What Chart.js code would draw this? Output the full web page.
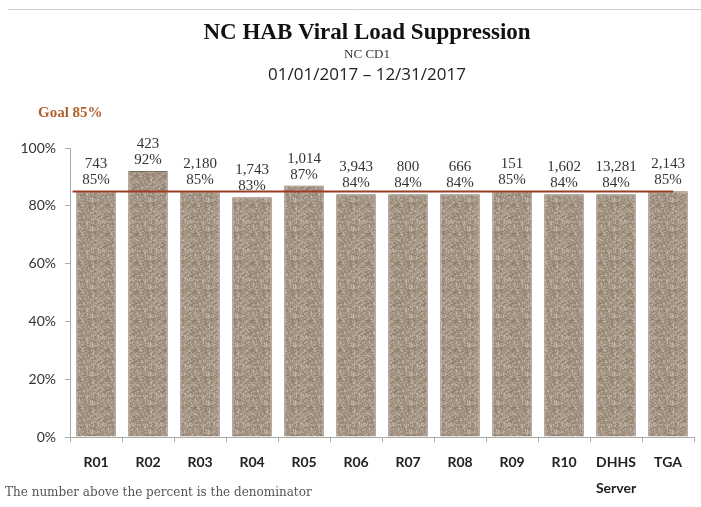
<!DOCTYPE html>
<html>
<head>
<meta charset="utf-8">
<script src="https://cdn.jsdelivr.net/npm/chart.js@4"></script>
<style>
  html, body { margin: 0; padding: 0; background: #fff; }
  #wrap { width: 701px; height: 507px; position: relative; }
</style>
</head>
<body>
<div id="wrap"><canvas id="c" width="701" height="507"></canvas></div>
<script>
// Regions and their viral load suppression results
const categories = ['R01', 'R02', 'R03', 'R04', 'R05', 'R06', 'R07', 'R08', 'R09', 'R10', ['DHHS', 'Server'], 'TGA'];
const suppressedPct = [85, 92, 85, 83, 87, 84, 84, 84, 85, 84, 84, 85];
const denominators = ['743', '423', '2,180', '1,743', '1,014', '3,943', '800', '666', '151', '1,602', '13,281', '2,143'];
const goalPct = 85;
const yTicks = [0, 20, 40, 60, 80, 100];

const titleText = 'NC HAB Viral Load Suppression';
const subtitleText = 'NC CD1';
const periodText = '01/01/2017 \u2013 12/31/2017';
const footnoteText = 'The number above the percent is the denominator';

// Mottled brown fill for the bars (deterministic hash speckle)
function makeTexture() {
  const n = 29;
  const t = document.createElement('canvas');
  t.width = n; t.height = n;
  const g = t.getContext('2d');
  g.fillStyle = '#a69787';
  g.fillRect(0, 0, n, n);
  for (let y = 0; y < n; y++) {
    for (let x = 0; x < n; x++) {
      let h = (x * 374761393 + y * 668265263) >>> 0;
      h = ((h ^ (h >>> 13)) * 1274126177) >>> 0;
      const v = h % 11;
      if (v < 3) { g.fillStyle = 'rgba(110,95,80,0.25)'; g.fillRect(x, y, 2, 1); }
      else if (v < 5) { g.fillStyle = 'rgba(220,210,198,0.35)'; g.fillRect(x, y, 1, 2); }
    }
  }
  return g.createPattern(t, 'repeat');
}

const headerPlugin = {
  id: 'header',
  beforeDraw(chart) {
    const ctx = chart.ctx;
    ctx.save();
    ctx.strokeStyle = '#d0d0d0';
    ctx.lineWidth = 1;
    ctx.beginPath();
    ctx.moveTo(8, 9.5);
    ctx.lineTo(701, 9.5);
    ctx.stroke();
    ctx.textAlign = 'center';
    ctx.textBaseline = 'middle';
    ctx.fillStyle = '#111';
    ctx.font = 'bold 23px "Liberation Serif"';
    ctx.fillText(titleText, 367, 33);
    ctx.font = '13px "Liberation Serif"';
    ctx.fillStyle = '#333';
    ctx.fillText(subtitleText, 367, 55);
    ctx.font = '17px "Open Sans"';
    ctx.fillStyle = '#222';
    ctx.fillText(periodText, 367, 75);
    ctx.textAlign = 'left';
    ctx.font = '12px "DejaVu Serif"';
    ctx.fillStyle = '#555';
    ctx.fillText(footnoteText, 5, 493);
    ctx.restore();
  }
};

const goalPlugin = {
  id: 'goal',
  afterDatasetsDraw(chart) {
    const ctx = chart.ctx;
    const x = chart.scales.x, y = chart.scales.y;
    const yy = Math.round(y.getPixelForValue(goalPct)) + 0.5;
    ctx.save();
    ctx.strokeStyle = '#9a3b22';
    ctx.lineWidth = 2;
    ctx.beginPath();
    ctx.moveTo(x.getPixelForValue(-0.45), yy);
    ctx.lineTo(x.getPixelForValue(11.1), yy);
    ctx.stroke();
    ctx.fillStyle = '#b0622c';
    ctx.font = 'bold 15px "Liberation Serif"';
    ctx.textAlign = 'left';
    ctx.textBaseline = 'middle';
    ctx.fillText('Goal ' + goalPct + '%', 38, 113);
    ctx.restore();
  }
};

const valueLabelPlugin = {
  id: 'valueLabels',
  afterDatasetsDraw(chart) {
    const ctx = chart.ctx;
    const meta = chart.getDatasetMeta(0);
    ctx.save();
    ctx.textAlign = 'center';
    ctx.textBaseline = 'middle';
    ctx.fillStyle = '#333';
    ctx.font = '15px "Liberation Serif"';
    meta.data.forEach((bar, i) => {
      ctx.fillText(denominators[i], bar.x, bar.y - 27);
      ctx.fillText(suppressedPct[i] + '%', bar.x, bar.y - 11);
    });
    ctx.restore();
  }
};

const ctx = document.getElementById('c').getContext('2d');
new Chart(ctx, {
  type: 'bar',
  data: {
    labels: categories,
    datasets: [{
      data: suppressedPct,
      backgroundColor: makeTexture(),
      borderColor: '#7c6d5f',
      borderWidth: 1,
      categoryPercentage: 1,
      barPercentage: 0.76
    }]
  },
  options: {
    responsive: false,
    animation: false,
    devicePixelRatio: 1,
    layout: { padding: { left: 0, right: 7, top: 148, bottom: 0 } },
    plugins: { legend: { display: false }, tooltip: { enabled: false }, title: { display: false } },
    scales: {
      x: {
        afterFit(s) { s.height = 70; },
        grid: { drawOnChartArea: false, drawTicks: true, tickLength: 5, color: '#aaa', offset: true },
        border: { color: '#aaa' },
        ticks: { color: '#222', font: { family: 'Lato', weight: 'bold', size: 14, lineHeight: 1.85 }, padding: 8, maxRotation: 0, autoSkip: false }
      },
      y: {
        min: 0, max: 100,
        afterFit(s) { s.width = 70; },
        afterBuildTicks(s) { s.ticks = yTicks.map(v => ({ value: v })); },
        grid: { drawOnChartArea: false, drawTicks: true, tickLength: 5, color: '#aaa' },
        border: { color: '#aaa' },
        ticks: { color: '#333', font: { family: 'Lato', size: 14 }, padding: 9, callback: v => v + '%' }
      }
    }
  },
  plugins: [headerPlugin, goalPlugin, valueLabelPlugin]
});
</script>
</body>
</html>
